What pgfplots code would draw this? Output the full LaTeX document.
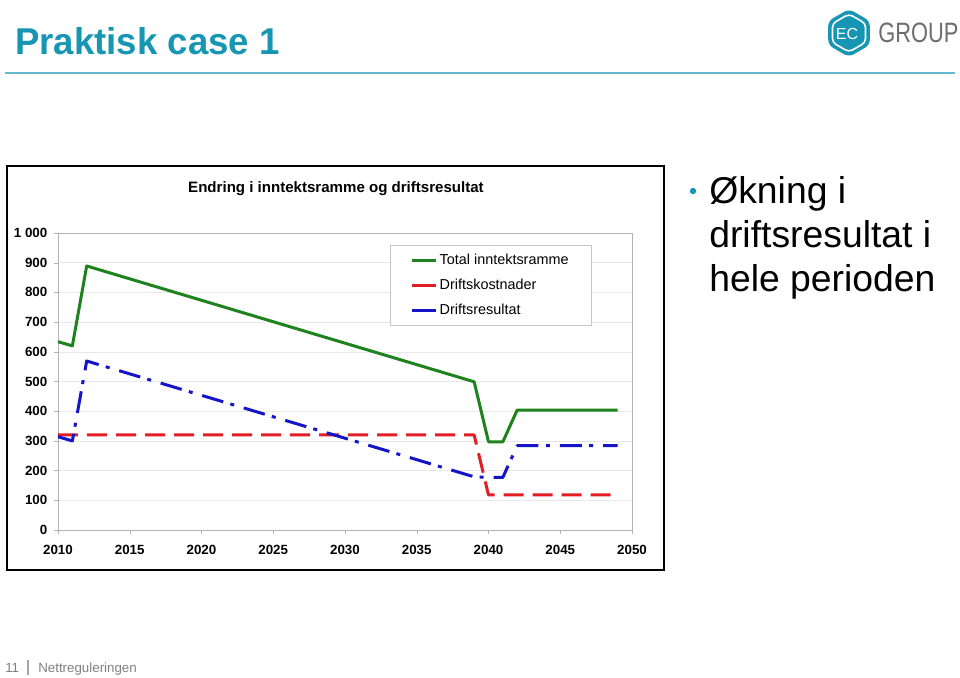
\documentclass[border=0pt]{standalone}
\usepackage{pgfplots}
\pgfplotsset{compat=1.18}
\usepackage{fontspec}
\setmainfont{Liberation Sans}
\definecolor{teal1}{RGB}{23,150,180}
\definecolor{tealline}{RGB}{100,185,205}
\definecolor{cgreen}{RGB}{30,130,30}
\definecolor{cred}{RGB}{226,30,36}
\definecolor{cblue}{RGB}{20,20,200}
\definecolor{logogrey}{RGB}{110,110,110}
\begin{document}
\begin{tikzpicture}[x=0.75pt,y=0.75pt]
\path[use as bounding box, fill=white] (0,0) rectangle (960,678);
% slide title
\node[anchor=base west, inner sep=0, text=teal1] at (15,623) {\scalebox{0.98}[1]{\fontsize{28}{32}\selectfont\bfseries Praktisk case 1}};
\draw[tealline, line width=1.5] (5,605) -- (955,605);
% logo
\fill[teal1, rounded corners=4] (849,669) -- (869.8,657) -- (869.8,633) -- (849,621) -- (828.2,633) -- (828.2,657) -- cycle;
\draw[white, line width=1.2, rounded corners=3] (849,664) -- (865.5,654.5) -- (865.5,635.5) -- (849,626) -- (832.5,635.5) -- (832.5,654.5) -- cycle;
\node[text=white, inner sep=0, font=\fontsize{12}{12}\selectfont] at (847,644) {EC};
\node[anchor=base west, inner sep=0, text=logogrey] at (878,635) {\scalebox{0.78}[1]{\fontsize{21}{21}\selectfont GROUP}};
% chart frame
\draw[black, line width=2.2] (7,108) rectangle (664,512);
\node[inner sep=0, font=\bfseries\fontsize{11.3}{13}\selectfont] at (336,489) {Endring i inntektsramme og driftsresultat};
\begin{axis}[
  at={(43.5pt,111pt)}, anchor=south west,
  scale only axis, width=430.5pt, height=222.75pt,
  xmin=2010, xmax=2050, ymin=0, ymax=1000,
  xtick={2010,2015,...,2050},
  ytick={0,100,...,1000},
  yticklabels={0,100,200,300,400,500,600,700,800,900,1 000},
  xticklabel style={/pgf/number format/1000 sep=, yshift=-5pt},
  yticklabel style={xshift=-1.5pt},
  /pgf/number format/assume math mode=true,
  ticklabel style={font=\bfseries\fontsize{10}{11}\selectfont},
  axis line style={draw=gray!60},
  tick style={draw=gray!60},
  tick align=outside, major tick length=3pt,
  xtick pos=bottom, ytick pos=left,
  ymajorgrids, grid style={draw=gray!18},
  line join=round,
  legend style={at={(0.578,0.96)}, anchor=north west, draw=gray!45,
    font=\fontsize{10.8}{12}\selectfont, row sep=5.5pt, inner xsep=15pt, inner ysep=4.5pt},
  legend cell align=left,
  legend image code/.code={\draw[#1,solid] (0pt,0pt) -- (18pt,0pt);},
]
\addplot[cgreen, line width=2.25pt] coordinates {(2010,634) (2011,620) (2012,889) (2039,499) (2040,297) (2041,297) (2042,404) (2049,404)};
\addlegendentry{Total inntektsramme}
\addplot[cred, line width=2.25pt, dash pattern=on 15pt off 6.75pt] coordinates {(2010,320) (2039,320) (2040,118) (2049,118)};
\addlegendentry{Driftskostnader}
\addplot[cblue, line width=2.25pt, dash pattern=on 16.5pt off 5.5pt on 3pt off 7.5pt] coordinates {(2010,314) (2011,300) (2012,569) (2039,179) (2040,177) (2041,177) (2042,284) (2049,284)};
\addlegendentry{Driftsresultat}
\end{axis}
% bullet text
\fill[teal1] (693,487) circle (3.2);
\node[anchor=base west, inner sep=0, font=\fontsize{28}{33}\selectfont] at (709,474) {Økning i};
\node[anchor=base west, inner sep=0, font=\fontsize{28}{33}\selectfont] at (709,430) {driftsresultat i};
\node[anchor=base west, inner sep=0, font=\fontsize{28}{33}\selectfont] at (709,386) {hele perioden};
% footer
\node[anchor=base west, inner sep=0, text=gray, font=\fontsize{10}{12}\selectfont] at (5,6) {11};
\draw[gray!70, line width=1.2] (28,3) -- (28,18);
\node[anchor=base west, inner sep=0, text=gray, font=\fontsize{10}{12}\selectfont] at (38,6) {Nettreguleringen};
\end{tikzpicture}
\end{document}
